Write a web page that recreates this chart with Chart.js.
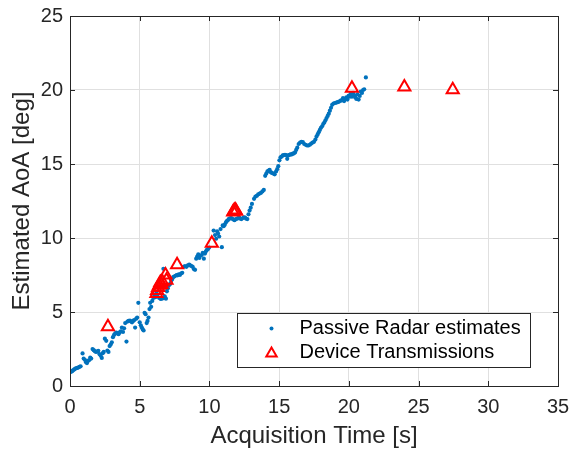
<!DOCTYPE html>
<html>
<head>
<meta charset="utf-8">
<script src="https://cdn.jsdelivr.net/npm/chart.js@4/dist/chart.umd.min.js"></script>
<style>
  html, body { margin: 0; padding: 0; background: #fff; }
  #wrap { width: 571px; height: 454px; }
</style>
</head>
<body>
<div id="wrap"><canvas id="grafico_aoa" width="571" height="454"></canvas></div>
<script>
// [time s, AoA deg]
const passiveEstimates = [
  [0.05,0.95],[0.12,0.98],[0.17,1.02],[0.24,1.08],[0.31,1.12],[0.38,1.18],[0.45,1.2],[0.52,1.22],
  [0.6,1.25],[0.68,1.3],[0.76,1.33],[0.9,2.2],[0.98,1.85],[1.08,1.75],[1.15,1.6],[1.22,1.55],
  [1.3,1.7],[1.38,1.75],[1.45,1.92],[1.52,1.85],[1.62,2.5],[1.7,2.42],[1.78,2.35],[1.86,2.3],
  [1.95,2.32],[2.03,2.38],[2.12,2.15],[2.2,2.05],[2.28,1.9],[2.35,2.22],[2.42,2.3],[2.5,3.2],
  [2.6,3.05],[2.68,2.4],[2.76,2.3],[2.84,2.7],[2.92,2.8],[3.0,2.95],[3.08,3.3],[3.16,3.45],
  [3.24,3.55],[3.32,3.6],[3.4,3.55],[3.48,3.5],[3.56,3.62],[3.64,3.7],[3.72,3.95],[3.8,3.65],
  [3.88,3.9],[3.96,4.25],[4.05,3.0],[4.12,4.35],[4.2,4.4],[4.3,4.42],[4.38,4.35],[4.45,4.3],
  [4.52,4.4],[4.6,4.45],[4.67,3.95],[4.75,4.55],[4.82,4.62],[4.9,5.62],[5.0,4.3],[5.08,4.1],
  [5.15,3.95],[5.22,3.82],[5.28,3.75],[5.35,4.95],[5.42,4.85],[5.5,4.25],[5.56,4.4],[5.63,4.62],
  [5.7,5.2],[5.75,5.62],[5.82,5.35],[5.9,5.75],[5.98,5.95],[6.05,6.1],[6.12,6.0],[6.2,6.3],
  [6.28,6.05],[6.4,5.95],[6.5,5.88],[6.6,5.9],[6.7,7.92],[6.72,5.95],[6.8,6.05],[6.88,5.9],
  [6.95,6.4],[7.02,6.6],[7.1,6.8],[7.18,6.9],[7.25,7.1],[7.32,7.2],[7.4,7.35],[7.48,7.4],
  [7.56,7.45],[7.65,7.5],[7.72,7.48],[7.8,7.55],[7.88,7.5],[7.96,7.6],[8.05,7.65],[8.15,8.05],
  [8.25,8.1],[8.35,8.05],[8.45,8.15],[8.55,8.2],[8.62,8.15],[8.72,8.1],[8.8,8.05],[8.88,7.9],
  [8.97,7.85],[9.05,8.6],[9.12,8.75],[9.2,8.9],[9.28,8.65],[9.36,8.8],[9.45,8.85],[9.52,9.0],
  [9.6,8.6],[9.68,8.95],[9.75,9.1],[9.82,9.2],[9.9,9.25],[9.98,9.35],[10.3,10.5],[10.4,10.2],
  [10.48,9.95],[10.55,10.45],[10.62,10.3],[10.7,10.1],[10.8,10.6],[10.89,9.38],[10.95,10.85],[11.02,10.8],
  [11.1,10.9],[11.18,11.05],[11.25,11.15],[11.32,11.2],[11.4,11.3],[11.48,11.32],[11.56,11.35],[11.64,11.3],
  [11.72,11.25],[11.8,11.2],[11.9,11.28],[11.98,11.3],[12.06,11.35],[12.14,11.38],[12.22,11.3],[12.3,11.28],
  [12.4,11.35],[12.48,11.4],[12.56,11.38],[12.64,11.3],[12.72,11.28],[12.8,11.6],[12.88,11.85],[12.96,12.05],
  [13.05,12.3],[13.2,12.65],[13.3,12.8],[13.4,12.85],[13.5,12.95],[13.6,13.0],[13.7,13.05],[13.8,13.15],
  [13.9,13.25],[14.0,14.2],[14.08,14.35],[14.16,14.5],[14.24,14.55],[14.32,14.6],[14.4,14.45],[14.48,14.4],
  [14.58,14.35],[14.68,14.3],[14.78,14.5],[14.86,14.65],[14.94,14.85],[15.02,15.25],[15.1,15.45],[15.18,15.5],
  [15.26,15.58],[15.34,15.6],[15.42,15.62],[15.5,15.6],[15.58,15.35],[15.66,15.58],[15.74,15.62],[15.82,15.65],
  [15.9,15.65],[15.98,15.7],[16.06,15.72],[16.14,15.78],[16.22,15.95],[16.3,16.1],[16.4,16.35],[16.5,16.45],
  [16.6,16.5],[16.7,16.48],[16.8,16.35],[16.9,16.3],[17.0,16.25],[17.1,16.25],[17.2,16.3],[17.3,16.38],
  [17.4,16.45],[17.5,16.5],[17.6,16.65],[17.68,16.85],[17.76,17.0],[17.84,17.15],[17.92,17.3],[18.0,17.45],
  [18.08,17.55],[18.16,17.7],[18.24,17.8],[18.32,17.95],[18.4,18.1],[18.48,18.25],[18.56,18.4],[18.64,18.6],
  [18.72,18.8],[18.8,19.0],[18.9,19.08],[19.0,19.12],[19.1,19.15],[19.2,19.18],[19.3,19.22],[19.4,19.28],
  [19.5,19.3],[19.58,19.45],[19.66,19.25],[19.74,19.4],[19.82,19.5],[19.9,19.35],[19.98,19.6],[20.06,19.55],
  [20.14,19.75],[20.22,19.55],[20.3,19.8],[20.38,19.65],[20.46,19.5],[20.54,19.4],[20.62,19.7],[20.7,19.35],
  [20.78,19.6],[20.86,19.9],[20.94,19.8],[21.02,20.0],[21.1,20.05],[21.22,20.85]
];

const deviceTransmissions = [
  [2.72,4.0],[6.2,6.25],[6.25,6.45],[6.32,6.65],[6.4,6.8],[6.48,7.0],[6.55,6.85],[6.62,7.05],
  [6.85,7.5],[6.92,7.15],[7.68,8.2],[10.17,9.65],[11.7,11.75],[11.78,11.85],[11.85,11.9],[11.92,11.8],
  [20.22,20.12],[23.98,20.2],[27.45,20.02]
];

const xTicks = [0, 5, 10, 15, 20, 25, 30, 35];
const yTicks = [0, 5, 10, 15, 20, 25];

const axisColor = '#262626';
const gridColor = '#e0e0e0';
Chart.defaults.font.family = "'Liberation Sans', Arial, Helvetica, sans-serif";

// box around the axes, inward ticks and the legend drawn inside the plot
const matlabAxes = {
  id: 'matlabAxes',
  afterDatasetsDraw(chart) {
    const { ctx, chartArea: a, scales } = chart;
    ctx.save();
    ctx.strokeStyle = axisColor;
    ctx.lineWidth = 1;
    ctx.beginPath();
    xTicks.forEach(v => {
      const px = Math.round(scales.x.getPixelForValue(v)) + 0.5;
      ctx.moveTo(px, a.bottom); ctx.lineTo(px, a.bottom - 5);
      ctx.moveTo(px, a.top); ctx.lineTo(px, a.top + 5);
    });
    yTicks.forEach(v => {
      const py = Math.round(scales.y.getPixelForValue(v)) + 0.5;
      ctx.moveTo(a.left, py); ctx.lineTo(a.left + 5, py);
      ctx.moveTo(a.right, py); ctx.lineTo(a.right - 5, py);
    });
    ctx.stroke();
    ctx.strokeRect(Math.round(a.left) + 0.5, Math.round(a.top) + 0.5,
      Math.round(a.right - a.left), Math.round(a.bottom - a.top));
    ctx.restore();
  },
  afterDraw(chart) {
    const { ctx, chartArea: a } = chart;
    const ds = chart.data.datasets;
    const w = 293, h = 54;
    const x0 = Math.round(a.right - 28 - w) + 0.5;
    const y0 = Math.round(a.bottom - 19 - h) + 0.5;
    ctx.save();
    ctx.fillStyle = '#fff';
    ctx.fillRect(x0, y0, w, h);
    ctx.strokeStyle = axisColor;
    ctx.lineWidth = 1;
    ctx.strokeRect(x0, y0, w, h);
    ctx.font = "20px 'Liberation Sans', Arial, sans-serif";
    ctx.textBaseline = 'middle';
    const rows = [y0 + 15, y0 + 39];
    // row 1: dot
    ctx.fillStyle = ds[0].backgroundColor;
    ctx.beginPath();
    ctx.arc(x0 + 34, rows[0], 2, 0, Math.PI * 2);
    ctx.fill();
    // row 2: triangle
    const r = 6, cx = x0 + 34, cy = rows[1] + 1;
    ctx.strokeStyle = ds[1].borderColor;
    ctx.lineWidth = 2;
    ctx.beginPath();
    ctx.moveTo(cx, cy - r);
    ctx.lineTo(cx + r * 0.866, cy + r * 0.5);
    ctx.lineTo(cx - r * 0.866, cy + r * 0.5);
    ctx.closePath();
    ctx.stroke();
    ctx.fillStyle = '#000';
    ctx.fillText(ds[0].label, x0 + 62, rows[0]);
    ctx.fillText(ds[1].label, x0 + 62, rows[1]);
    ctx.restore();
  }
};

const ctx = document.getElementById('grafico_aoa').getContext('2d');
const grafico = new Chart(ctx, {
  type: 'scatter',
  data: {
    datasets: [{
      label: 'Passive Radar estimates',
      data: passiveEstimates.map(p => ({ x: p[0], y: p[1] })),
      pointStyle: 'circle',
      pointRadius: 2.1,
      borderWidth: 0,
      backgroundColor: '#0072BD',
      order: 2
    }, {
      label: 'Device Transmissions',
      data: deviceTransmissions.map(p => ({ x: p[0], y: p[1] })),
      pointStyle: 'triangle',
      pointRadius: 7,
      borderWidth: 2,
      borderColor: '#FF0000',
      backgroundColor: 'rgba(0,0,0,0)',
      order: 1
    }]
  },
  options: {
    responsive: false,
    animation: false,
    layout: { padding: { top: 16, right: 13, bottom: 0, left: 0 } },
    plugins: {
      legend: { display: false },
      tooltip: { enabled: false }
    },
    scales: {
      x: {
        type: 'linear',
        min: 0, max: 35,
        afterBuildTicks: s => { s.ticks = xTicks.map(v => ({ value: v })); },
        afterFit: s => { s.height = 68; s.paddingLeft = 0; s.paddingRight = 0; },
        ticks: { color: axisColor, font: { size: 20 }, padding: 9 },
        grid: { color: gridColor, drawTicks: false },
        border: { display: false },
        title: {
          display: true,
          text: 'Acquisition Time [s]',
          color: axisColor,
          font: { size: 24 },
          padding: { top: 0, bottom: 3 }
        }
      },
      y: {
        type: 'linear',
        min: 0, max: 25,
        afterBuildTicks: s => { s.ticks = yTicks.map(v => ({ value: v })); },
        afterFit: s => { s.width = 70; s.paddingTop = 0; s.paddingBottom = 0; },
        ticks: { color: axisColor, font: { size: 20 }, padding: 7 },
        grid: { color: gridColor, drawTicks: false },
        border: { display: false },
        title: {
          display: true,
          text: 'Estimated AoA [deg]',
          color: axisColor,
          font: { size: 24 },
          padding: { top: 8, bottom: 0 }
        }
      }
    }
  },
  plugins: [matlabAxes]
});
</script>
</body>
</html>
